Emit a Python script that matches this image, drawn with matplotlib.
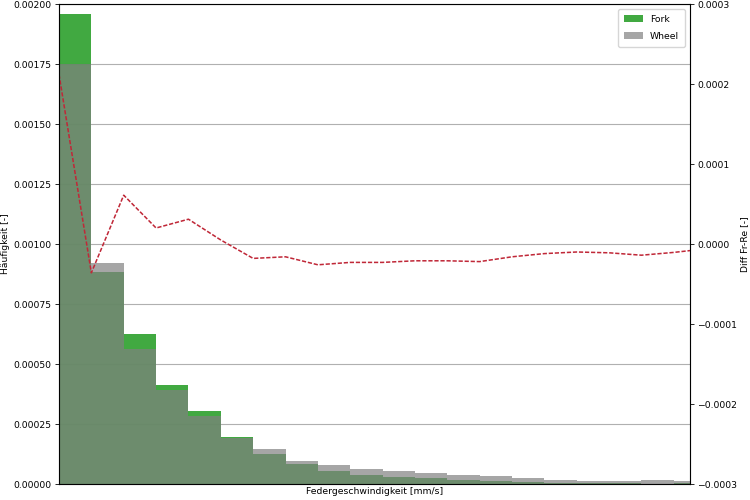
import numpy as np
import matplotlib
matplotlib.use("Agg")
import matplotlib.pyplot as plt

# histogram bins (bin index units, width 1)
n_bins = 21
fork = [0.00196, 0.000885, 0.000625, 0.000413, 0.000304, 0.000196, 0.000125,
        0.000083, 0.000053, 0.000039, 0.000031, 0.000024, 0.000017, 0.000013,
        0.0000095, 0.000005, 0.000004, 0.000003, 0.000002, 0.000003, 0.000003]
wheel = [0.00175, 0.00092, 0.000563, 0.00039, 0.000283, 0.000192, 0.000146,
         0.000097, 0.000079, 0.000062, 0.000054, 0.000045, 0.000038, 0.000035,
         0.0000255, 0.000017, 0.000014, 0.000014, 0.000016, 0.000013, 0.000010]
diff = [0.000212, -0.000036, 0.000061, 0.000020, 0.000031, 0.000005, -0.000018,
        -0.000016, -0.000026, -0.000023, -0.000023, -0.000021, -0.000021, -0.000022,
        -0.000016, -0.000012, -0.000010, -0.000011, -0.000014, -0.0000105, -0.000006]

edges = np.arange(n_bins + 1)

s = 0.74  # overall scale of the reference rendering
fs = 6.7
plt.rcParams['axes.linewidth'] = 0.8 * s * 1.3

fig = plt.figure(figsize=(7.5, 5), dpi=100)
ax = fig.add_axes([59/750, 1-484/500, (690-59)/750, (484-4)/500])
ax.set_axisbelow(True)
ax.bar(edges[:-1], fork, width=1, align='edge', color='tab:green', alpha=0.9,
       label='Fork', linewidth=0)
ax.bar(edges[:-1], wheel, width=1, align='edge', color='grey', alpha=0.7,
       label='Wheel', linewidth=0)
ax.set_xlim(0, 19.5)
ax.set_ylim(0, 0.002)
ax.set_yticks(np.arange(0, 0.00201, 0.00025))
ax.set_xticks([])
ax.grid(axis='y', color='#b0b0b0', linewidth=0.8)
ax.tick_params(axis='y', labelsize=fs, length=3.5*s, pad=3.5*s, width=0.8*s)
ax.set_ylabel('Häufigkeit [-]', fontsize=fs, labelpad=3)
ax.set_xlabel('Federgeschwindigkeit [mm/s]', fontsize=fs, labelpad=2)
ax.legend(loc='upper right', fontsize=fs, labelspacing=0.85, borderpad=0.65)

ax2 = ax.twinx()
ax2.plot(edges[:-1], diff, color='#c02838', linestyle=(0, (3.7*s, 1.6*s)),
         linewidth=1.5*s)
ax2.set_ylim(-0.0003, 0.0003)
ax2.set_yticks(np.arange(-0.0003, 0.00031, 0.0001))
ax2.tick_params(axis='y', labelsize=fs, length=3.5*s, pad=3.5*s, width=0.8*s)
ax2.set_ylabel('Diff Fr-Re [-]', fontsize=fs, labelpad=2)
ax2.set_xlim(0, 19.5)

fig.savefig('out.png', dpi=100)
